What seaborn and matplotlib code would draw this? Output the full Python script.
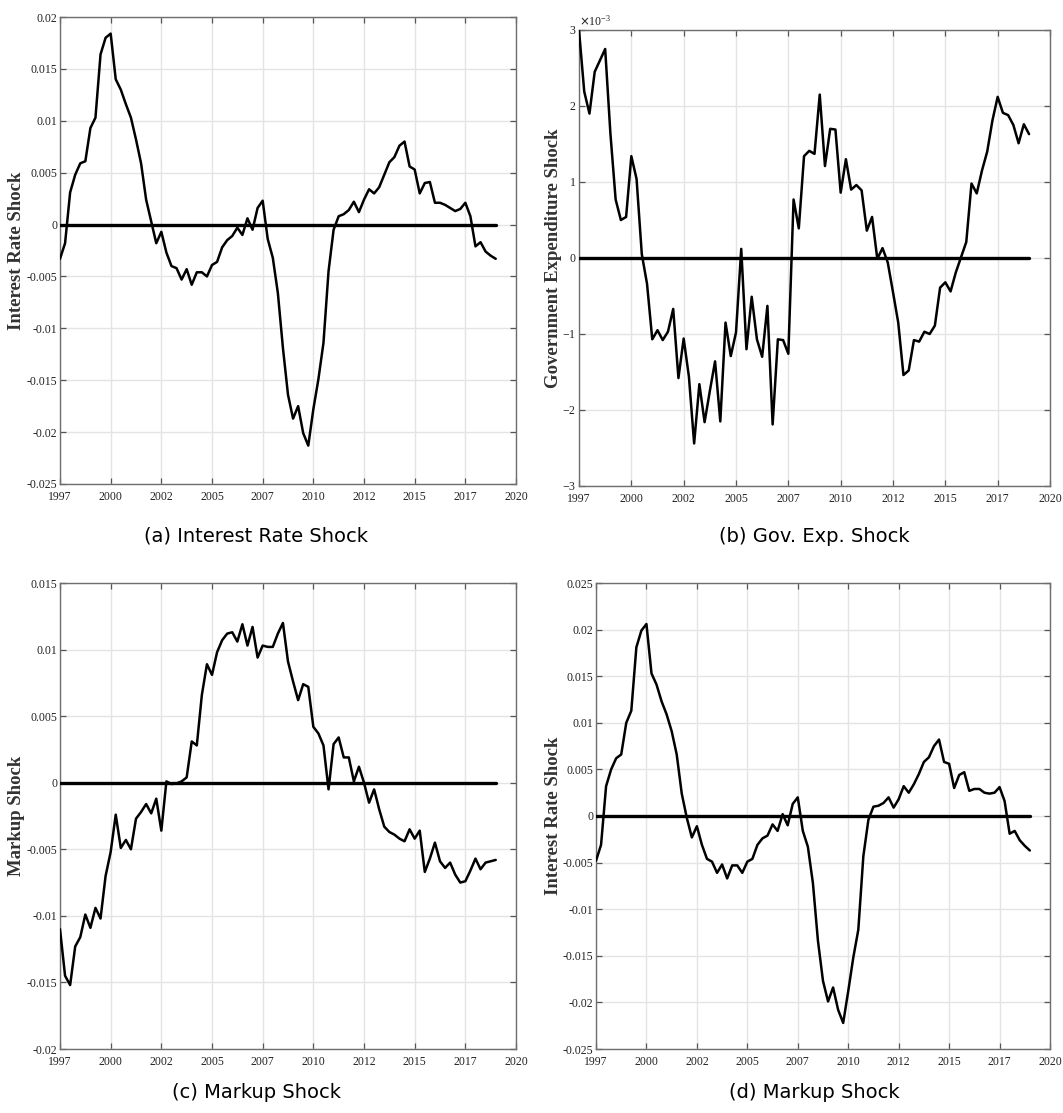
import numpy as np
import matplotlib
matplotlib.use("Agg")
import matplotlib.pyplot as plt
import seaborn as sns
from matplotlib.ticker import FuncFormatter, MultipleLocator, ScalarFormatter

# ---------------- data (quarterly) ----------------
n_obs = 87
years = 1997.5 + 0.25 * np.arange(n_obs)   # quarterly time axis

interest_rate_shock_a = [
    -0.0033, -0.0018, 0.0031, 0.0048, 0.0059, 0.0061, 0.0093, 0.0103, 0.0164, 0.0180,
    0.0184, 0.0140, 0.0130, 0.0116, 0.0103, 0.0082, 0.0059, 0.0024, 0.0003, -0.0018,
    -0.0007, -0.0027, -0.0040, -0.0042, -0.0053, -0.0043, -0.0058, -0.0046, -0.0046, -0.0050,
    -0.0039, -0.0036, -0.0022, -0.0015, -0.0011, -0.0003, -0.0010, 0.0006, -0.0005, 0.0016,
    0.0023, -0.0014, -0.0032, -0.0066, -0.0119, -0.0164, -0.0187, -0.0175, -0.0201, -0.0213,
    -0.0178, -0.0149, -0.0114, -0.0045, -0.0005, 0.0008, 0.0010, 0.0014, 0.0022, 0.0012,
    0.0024, 0.0034, 0.0030, 0.0036, 0.0048, 0.0060, 0.0065, 0.0076, 0.0080, 0.0056,
    0.0053, 0.0030, 0.0040, 0.0041, 0.0021, 0.0021, 0.0019, 0.0016, 0.0013, 0.0015,
    0.0021, 0.0008, -0.0021, -0.0017, -0.0026, -0.0030, -0.0033]

gov_exp_shock_e3 = [  # in units of 1e-3
    3.00, 2.19, 1.90, 2.45, 2.60, 2.75, 1.64, 0.77, 0.50, 0.54,
    1.34, 1.04, 0.05, -0.34, -1.07, -0.95, -1.08, -0.97, -0.67, -1.58,
    -1.06, -1.56, -2.44, -1.66, -2.16, -1.75, -1.36, -2.15, -0.85, -1.29,
    -0.98, 0.12, -1.20, -0.51, -1.07, -1.30, -0.63, -2.19, -1.07, -1.08,
    -1.26, 0.77, 0.39, 1.34, 1.41, 1.37, 2.15, 1.21, 1.70, 1.69,
    0.86, 1.30, 0.90, 0.96, 0.89, 0.36, 0.54, -0.01, 0.13, -0.06,
    -0.45, -0.85, -1.54, -1.48, -1.08, -1.10, -0.97, -1.00, -0.89, -0.39,
    -0.32, -0.44, -0.19, 0.01, 0.21, 0.98, 0.85, 1.15, 1.40, 1.81,
    2.12, 1.91, 1.88, 1.75, 1.51, 1.76, 1.63]

markup_shock = [
    -0.0110, -0.0145, -0.0152, -0.0123, -0.0116, -0.0099, -0.0109, -0.0094, -0.0102, -0.0070,
    -0.0052, -0.0024, -0.0049, -0.0043, -0.0050, -0.0027, -0.0022, -0.0016, -0.0023, -0.0012,
    -0.0036, 0.0001, -0.0001, -0.00005, 0.0001, 0.0004, 0.0031, 0.0028, 0.0066, 0.0089,
    0.0081, 0.0098, 0.0107, 0.0112, 0.0113, 0.0106, 0.0119, 0.0103, 0.0117, 0.0094,
    0.0103, 0.0102, 0.0102, 0.0112, 0.0120, 0.0091, 0.0076, 0.0062, 0.0074, 0.0072,
    0.0042, 0.0037, 0.0028, -0.0005, 0.0029, 0.0034, 0.0019, 0.0019, 0.0001, 0.0012,
    0.0000, -0.0015, -0.0005, -0.0020, -0.0033, -0.0037, -0.0039, -0.0042, -0.0044, -0.0035,
    -0.0042, -0.0036, -0.0067, -0.0057, -0.0045, -0.0059, -0.0064, -0.0060, -0.0069, -0.0075,
    -0.0074, -0.0066, -0.0057, -0.0065, -0.0060, -0.0059, -0.0058]

interest_rate_shock_d = [
    -0.0048, -0.0031, 0.0032, 0.0050, 0.0062, 0.0066, 0.0100, 0.0113, 0.0181, 0.0199,
    0.0206, 0.0153, 0.0141, 0.0123, 0.0109, 0.0091, 0.0066, 0.0024, -0.0002, -0.0023,
    -0.0011, -0.0031, -0.0046, -0.0049, -0.0061, -0.0052, -0.0067, -0.0053, -0.0053, -0.0061,
    -0.0049, -0.0046, -0.0031, -0.0024, -0.0021, -0.0009, -0.0016, 0.0002, -0.0010, 0.0013,
    0.0020, -0.0016, -0.0033, -0.0072, -0.0134, -0.0177, -0.0199, -0.0184, -0.0208, -0.0222,
    -0.0188, -0.0152, -0.0122, -0.0043, -0.0004, 0.0010, 0.0011, 0.0014, 0.0020, 0.0009,
    0.0018, 0.0032, 0.0025, 0.0034, 0.0045, 0.0058, 0.0063, 0.0075, 0.0082, 0.0058,
    0.0056, 0.0030, 0.0044, 0.0047, 0.0027, 0.0029, 0.0029, 0.0025, 0.0024, 0.0025,
    0.0031, 0.0016, -0.0019, -0.0016, -0.0026, -0.0032, -0.0037]

xtick_pos = [1997.5, 2000, 2002.5, 2005, 2007.5, 2010, 2012.5, 2015, 2017.5, 2020]
xtick_labels = ["1997", "2000", "2002", "2005", "2007", "2010", "2012", "2015", "2017", "2020"]

ylabels = ["Interest Rate Shock", "Government Expenditure Shock", "Markup Shock", "Interest Rate Shock"]
captions = ["(a) Interest Rate Shock", "(b) Gov. Exp. Shock", "(c) Markup Shock", "(d) Markup Shock"]

# ---------------- style ----------------
sns.set_theme(style="white")
plt.rcParams["font.family"] = ["Liberation Serif", "DejaVu Serif"]
plt.rcParams["axes.unicode_minus"] = False

W, H = 1063, 1113
fig = plt.figure(figsize=(W / 100, H / 100), dpi=100)
fig.patch.set_facecolor("white")

# pixel boxes: left, top, right, bottom
boxes = [(60, 17, 516, 484), (579, 30, 1050, 486),
         (60, 583, 516, 1049), (596, 583, 1050, 1049)]
ylims = [(-0.025, 0.02), (-3e-3, 3e-3), (-0.02, 0.015), (-0.025, 0.025)]
ysteps = [0.005, 1e-3, 0.005, 0.005]
series = [interest_rate_shock_a, list(np.array(gov_exp_shock_e3) * 1e-3),
          markup_shock, interest_rate_shock_d]
label_x_px = [17, 553, 17, 553]
caption_pos = [(256, 536), (814, 536), (256, 1093), (814, 1093)]


def gfmt(v, p):
    if abs(v) < 1e-12:
        return "0"
    return f"{v:g}"


for k in range(4):
    l, t, r, b = boxes[k]
    ax = fig.add_axes([l / W, 1 - b / H, (r - l) / W, (b - t) / H])
    sns.lineplot(x=years, y=np.zeros(n_obs), ax=ax, color="black", lw=2.4, zorder=3)
    sns.lineplot(x=years, y=series[k], ax=ax, color="black", lw=1.8, zorder=4)
    ax.set_xlim(1997.5, 2020)
    ax.set_ylim(*ylims[k])
    ax.set_xticks(xtick_pos)
    ax.set_xticklabels(xtick_labels)
    ax.yaxis.set_major_locator(MultipleLocator(ysteps[k]))
    if k == 1:
        sf = ScalarFormatter(useMathText=True)
        sf.set_powerlimits((-3, -3))
        ax.yaxis.set_major_formatter(sf)
        ax.yaxis.get_offset_text().set_fontsize(8.5)
    else:
        ax.yaxis.set_major_formatter(FuncFormatter(gfmt))
    ax.grid(True, color="#e4e4e4", lw=1.0)
    ax.set_axisbelow(True)
    for s in ax.spines.values():
        s.set_color("#6e6e6e")
        s.set_linewidth(1.0)
    ax.tick_params(axis="both", which="both", direction="in", length=4, width=0.9,
                   colors="#555555", labelcolor="#222222", labelsize=8.5,
                   top=True, right=True, bottom=True, left=True, pad=2)
    ax.tick_params(axis="x", pad=5)
    ax.set_ylabel(ylabels[k], fontsize=13.5, fontweight="bold", color="#333333")
    ax.yaxis.set_label_coords((label_x_px[k] - l) / (r - l), 0.5)
    ax.yaxis.label.set_va("center")
    ax.set_xlabel("")
    cx, cy = caption_pos[k]
    fig.text(cx / W, 1 - cy / H, captions[k], ha="center", va="center",
             fontsize=14, family=["DejaVu Sans"], color="black")

fig.savefig("out.png", dpi=100, facecolor="white")
